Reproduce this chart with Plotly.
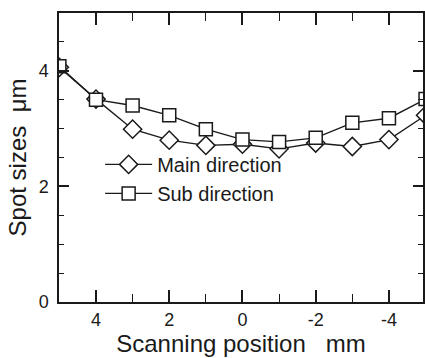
import plotly.graph_objects as go

positions = [5, 4, 3, 2, 1, 0, -1, -2, -3, -4, -5]
main_direction = [4.06, 3.51, 2.99, 2.80, 2.71, 2.73, 2.65, 2.75, 2.69, 2.81, 3.23]
sub_direction = [4.08, 3.50, 3.40, 3.23, 2.99, 2.81, 2.77, 2.84, 3.10, 3.18, 3.51]
x_ticks = [4, 2, 0, -2, -4]
y_ticks = [0, 2, 4]

FONT = "Arial, Liberation Sans, sans-serif"
INK = "#1a1a1a"
X_RANGE = [5.01, -4.93]
Y_RANGE = [0, 5]

fig = go.Figure()
fig.add_trace(go.Scatter(
    x=positions, y=main_direction, mode="lines+markers", name="Main direction",
    line=dict(color=INK, width=1.4),
    marker=dict(symbol="diamond", size=14, color="white", line=dict(color=INK, width=1.5)),
))
fig.add_trace(go.Scatter(
    x=positions, y=sub_direction, mode="lines+markers", name="Sub direction",
    line=dict(color=INK, width=1.4),
    marker=dict(symbol="square", size=13, color="white", line=dict(color=INK, width=1.5)),
))

fig.update_layout(
    width=425, height=358,
    margin=dict(l=59, r=2, t=13, b=56),
    paper_bgcolor="white", plot_bgcolor="rgba(0,0,0,0)",
    font=dict(family=FONT, color=INK),
    showlegend=True,
    legend=dict(
        x=0.113, y=0.426, xanchor="left", yanchor="middle",
        bgcolor="rgba(0,0,0,0)", font=dict(size=20, family=FONT, color=INK),
        itemwidth=47,
    ),
    xaxis=dict(
        range=X_RANGE, tickmode="array", tickvals=x_ticks, ticktext=[str(v) for v in x_ticks],
        ticks="inside", ticklen=12, tickwidth=1.5, tickcolor=INK, layer="above traces",
        minor=dict(tickmode="linear", tick0=0, dtick=1, ticks="inside", ticklen=8,
                   tickwidth=1.4, tickcolor=INK, showgrid=False),
        showline=True, linecolor=INK, linewidth=1.5, mirror="allticks",
        showgrid=False, zeroline=False, automargin=False,
        tickfont=dict(size=18, family=FONT, color=INK), ticklabelstandoff=1,
        title=dict(text="Scanning position\u00a0\u00a0\u00a0mm", font=dict(size=24, family=FONT, color=INK), standoff=3),
    ),
    yaxis=dict(
        range=Y_RANGE, tickmode="array", tickvals=y_ticks, ticktext=[str(v) for v in y_ticks],
        ticks="inside", ticklen=10, tickwidth=1.5, tickcolor=INK, layer="above traces",
        minor=dict(tickmode="linear", tick0=0, dtick=0.5, ticks="inside", ticklen=5,
                   tickwidth=1.4, tickcolor=INK, showgrid=False),
        showline=True, linecolor=INK, linewidth=1.5, mirror="allticks",
        showgrid=False, zeroline=False, automargin=False,
        tickfont=dict(size=18, family=FONT, color=INK), ticklabelstandoff=5,
        title=dict(text="Spot sizes\u00a0\u00a0μm", font=dict(size=24, family=FONT, color=INK), standoff=5),
    ),
)

fig.write_html("out.html", config={"displayModeBar": False},
               post_script="document.body.style.margin='0';document.body.style.overflow='hidden';")
